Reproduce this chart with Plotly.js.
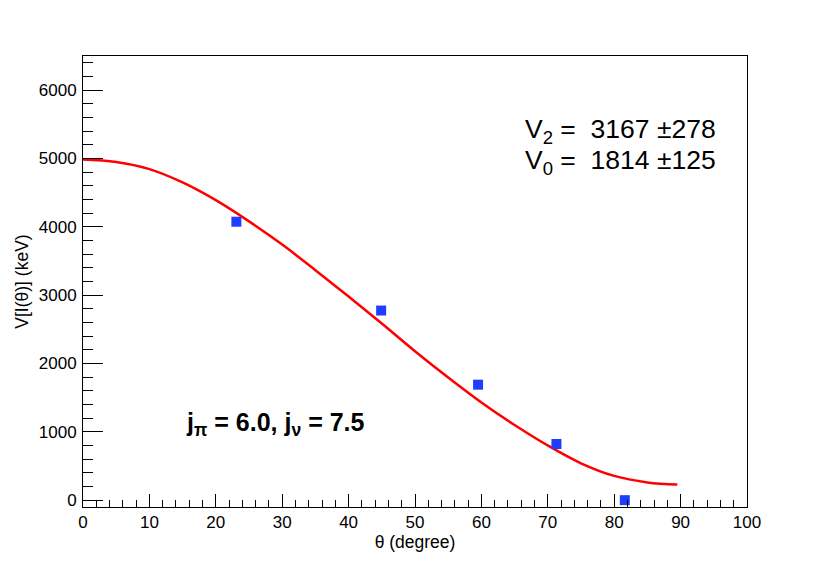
<!DOCTYPE html>
<html>
<head>
<meta charset="utf-8">
<script src="https://cdn.plot.ly/plotly-3.0.1.min.js"></script>
<style>
  html, body { margin: 0; padding: 0; background: #fff; }
  #chart { width: 830px; height: 564px; }
</style>
</head>
<body>
<div id="chart"></div>
<script>
// measured points
const theta = [23.1, 44.9, 59.5, 71.3, 81.6];
const energy = [4075, 2775, 1690, 822, 0];

// fit curve
const fitTheta = [0, 5, 10, 15, 20, 25, 30, 35, 40, 45, 50, 55, 60, 65, 70, 75, 80, 85, 89.5];
const fitEnergy = [4985, 4950, 4845, 4650, 4390, 4080, 3740, 3365, 2980, 2585, 2180, 1795, 1430, 1100, 800, 540, 355, 260, 228];

const fitText = ["V<sub>2</sub> =\u00a0 3167 \u00b1278", "V<sub>0</sub> =\u00a0 1814 \u00b1125"];
const spinText = "<b>j<sub>\u03c0</sub> = 6.0, j<sub>\u03bd</sub> = 7.5</b>";

const FONT = "Liberation Sans, Arial, Helvetica, sans-serif";

let traces = [
    {
        x: fitTheta,
        y: fitEnergy,
        type: "scatter",
        mode: "lines",
        line: { color: "#ff0000", width: 2.5, shape: "spline", smoothing: 1 },
        hoverinfo: "skip"
    },
    {
        x: theta,
        y: energy,
        type: "scatter",
        mode: "markers",
        marker: { symbol: "square", size: 10, color: "#1f3dff" }
    }
];

let layout = {
    width: 830,
    height: 564,
    margin: { l: 83, r: 83, t: 56, b: 57 },
    paper_bgcolor: "#fff",
    plot_bgcolor: "#fff",
    showlegend: false,
    font: { family: FONT, size: 17, color: "#000" },
    xaxis: {
        range: [0, 100],
        dtick: 10,
        tick0: 0,
        ticks: "inside",
        ticklen: 13,
        tickwidth: 1,
        tickcolor: "#000",
        minor: { dtick: 2, ticks: "inside", ticklen: 7, tickwidth: 1, tickcolor: "#000" },
        showline: true,
        linecolor: "#000",
        linewidth: 1,
        mirror: true,
        showgrid: false,
        zeroline: false,
        tickfont: { size: 17 },
        title: { text: "\u03b8 (degree)", font: { size: 17.5 }, standoff: 4 }
    },
    yaxis: {
        range: [-100, 6500],
        dtick: 1000,
        tick0: 0,
        ticks: "inside",
        ticklen: 20,
        tickwidth: 1,
        tickcolor: "#000",
        minor: { dtick: 200, ticks: "inside", ticklen: 10, tickwidth: 1, tickcolor: "#000" },
        showline: true,
        linecolor: "#000",
        linewidth: 1,
        mirror: true,
        showgrid: false,
        zeroline: false,
        tickfont: { size: 17 },
        ticklabelstandoff: 2,
        title: { text: "V[I(\u03b8)] (keV)", font: { size: 17.5 }, standoff: 5 }
    },
    annotations: [
        {
            xref: "paper", yref: "paper", x: 0.663, y: 0.834,
            xanchor: "left", yanchor: "middle",
            text: fitText[0], showarrow: false,
            font: { size: 26.5 }
        },
        {
            xref: "paper", yref: "paper", x: 0.663, y: 0.765,
            xanchor: "left", yanchor: "middle",
            text: fitText[1], showarrow: false,
            font: { size: 26.5 }
        },
        {
            xref: "paper", yref: "paper", x: 0.152, y: 0.184,
            xanchor: "left", yanchor: "middle",
            text: spinText, showarrow: false,
            font: { size: 25 }
        }
    ]
};

Plotly.newPlot("chart", traces, layout, { displayModeBar: false, staticPlot: true });
</script>
</body>
</html>
